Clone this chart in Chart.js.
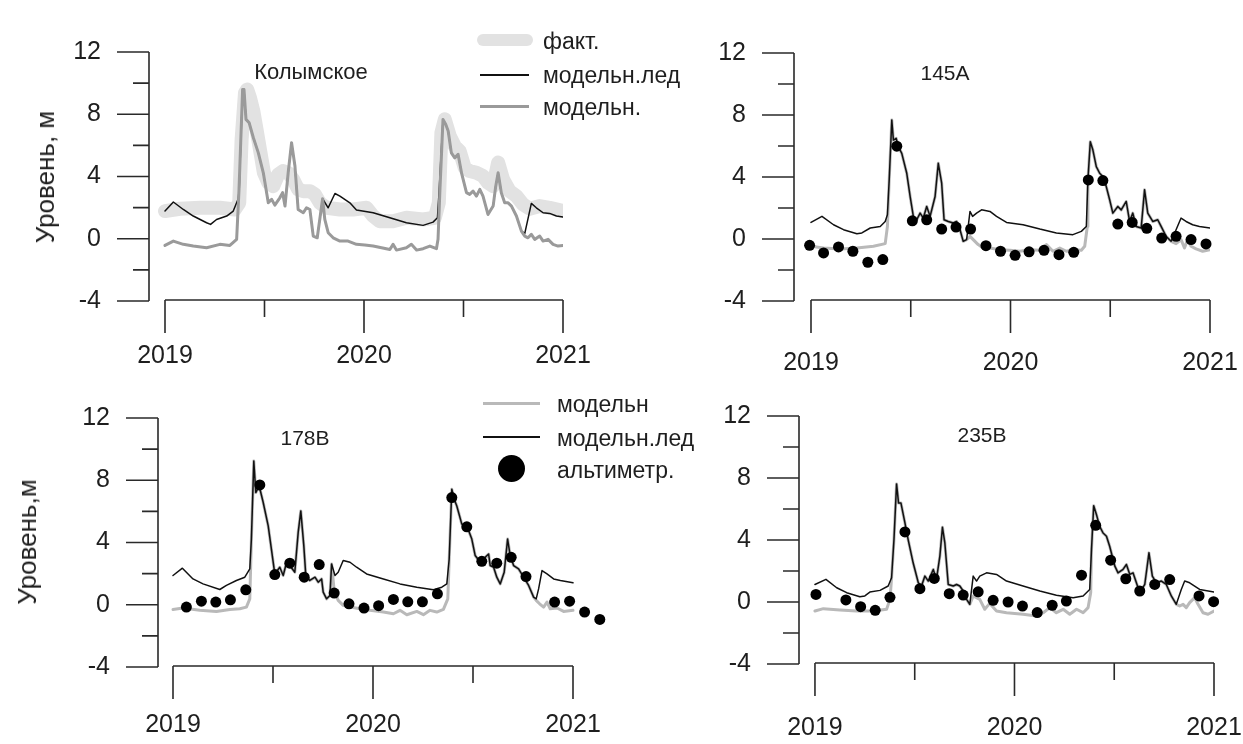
<!DOCTYPE html>
<html lang="ru">
<head>
<meta charset="UTF-8"/>
<title>Уровень воды: Колымское, 145A, 178B, 235B</title>
<style>
  html, body { margin: 0; padding: 0; background: #fff; }
  #page { position: relative; width: 1243px; height: 744px; overflow: hidden;
          font-family: "Liberation Sans", Arial, sans-serif; color: #1e1e1e; }
  #page canvas { position: absolute; left: 0; top: 0; }
  .t { position: absolute; white-space: nowrap; line-height: 1; }
  .c { transform: translate(-50%, -50%); }
  .l { transform: translateY(-50%); }
  .ylab { font-size: 26px; transform: translate(-50%, -50%) rotate(-90deg); }
  .ptitle { font-size: 21px; }
  .leg { font-size: 23px; }
  .sw { position: absolute; }
</style>
</head>
<body>
<div id="page">
  <canvas id="c1" width="1243" height="744"></canvas>
  <canvas id="c2" width="1243" height="744"></canvas>
  <canvas id="c3" width="1243" height="744"></canvas>
  <canvas id="c4" width="1243" height="744"></canvas>

  <div class="t ylab" style="left:45px; top:177px;">Уровень, м</div>
  <div class="t ylab" style="left:27px; top:542px;">Уровень,м</div>

  <div class="t c ptitle" style="left:311px; top:72px; font-size:22px;">Колымское</div>
  <div class="t c ptitle" style="left:945px; top:72px;">145A</div>
  <div class="t c ptitle" style="left:305px; top:437px;">178B</div>
  <div class="t c ptitle" style="left:982px; top:434px;">235B</div>

  <!-- legend, top -->
  <div class="sw" style="left:477px; top:34px; width:56px; height:12px; border-radius:6px; background:#e2e2e2;"></div>
  <div class="sw" style="left:480px; top:74px; width:49px; height:1.5px; background:#111;"></div>
  <div class="sw" style="left:480px; top:105px; width:49px; height:3px; background:#9a9a9a;"></div>
  <div class="t l leg" style="left:543px; top:41px;">факт.</div>
  <div class="t l leg" style="left:543px; top:75px;">модельн.лед</div>
  <div class="t l leg" style="left:543px; top:107px;">модельн.</div>

  <!-- legend, bottom -->
  <div class="sw" style="left:483px; top:402px; width:57px; height:3px; background:#b9b9b9;"></div>
  <div class="sw" style="left:483px; top:436px; width:57px; height:1.5px; background:#111;"></div>
  <div class="sw" style="left:498px; top:455px; width:27px; height:27px; border-radius:50%; background:#000;"></div>
  <div class="t l leg" style="left:557px; top:404px;">модельн</div>
  <div class="t l leg" style="left:557px; top:438px;">модельн.лед</div>
  <div class="t l leg" style="left:557px; top:470px;">альтиметр.</div>
</div>

<script src="https://cdn.jsdelivr.net/npm/chart.js@4.4.1/dist/chart.umd.min.js"></script>
<script>
// axis ticks
const yMajor = [-4, 0, 4, 8, 12];
const yMinor = [-2, 2, 6, 10];
const xMajor = [2019, 2020, 2021];
const xMinor = [2019.5, 2020.5];
const xLabels = ['2019', '2020', '2021'];

// ---- Колымское ----
const kolFactT = [2019.000, 2019.075, 2019.176, 2019.276, 2019.351, 2019.373, 2019.385, 2019.402, 2019.413, 2019.427,
  2019.444, 2019.460, 2019.477, 2019.497, 2019.519, 2019.544, 2019.569, 2019.594, 2019.619, 2019.644,
  2019.669, 2019.695, 2019.728, 2019.753, 2019.778, 2019.812, 2019.879, 2019.946, 2020.013, 2020.046,
  2020.079, 2020.146, 2020.213, 2020.297, 2020.356, 2020.376, 2020.389, 2020.406, 2020.431, 2020.456,
  2020.481, 2020.506, 2020.531, 2020.565, 2020.598, 2020.623, 2020.649, 2020.674, 2020.699, 2020.732,
  2020.766, 2020.799, 2020.833, 2020.883, 2020.933, 2021.000];
const kolFactV = [1.78, 1.93, 1.99, 1.99, 1.88, 2.31, 6.38, 9.38, 9.59, 9.06,
  8.20, 7.02, 5.74, 4.24, 3.60, 3.38, 4.13, 4.35, 4.24, 3.81,
  3.17, 3.06, 3.06, 2.85, 2.31, 1.99, 1.88, 1.88, 1.99, 1.46,
  1.13, 1.13, 1.35, 1.24, 1.35, 2.31, 6.81, 7.67, 6.60, 5.95,
  5.63, 4.56, 4.35, 4.24, 4.03, 3.60, 3.38, 4.90, 3.81, 3.06,
  2.74, 2.21, 1.93, 2.10, 1.99, 1.78];

const kolModT = [2019.000, 2019.042, 2019.092, 2019.142, 2019.209, 2019.276, 2019.326, 2019.360, 2019.372, 2019.390,
  2019.397, 2019.407, 2019.423, 2019.444, 2019.469, 2019.494, 2019.519, 2019.536, 2019.552, 2019.577,
  2019.591, 2019.603, 2019.619, 2019.636, 2019.653, 2019.669, 2019.695, 2019.711, 2019.728, 2019.745,
  2019.765, 2019.792, 2019.803, 2019.820, 2019.845, 2019.879, 2019.920, 2019.962, 2020.004, 2020.046,
  2020.088, 2020.130, 2020.146, 2020.163, 2020.213, 2020.238, 2020.264, 2020.297, 2020.331, 2020.364,
  2020.372, 2020.381, 2020.397, 2020.411, 2020.423, 2020.439, 2020.456, 2020.473, 2020.490, 2020.515,
  2020.531, 2020.548, 2020.565, 2020.582, 2020.598, 2020.623, 2020.649, 2020.662, 2020.674, 2020.690,
  2020.707, 2020.724, 2020.741, 2020.766, 2020.791, 2020.808, 2020.824, 2020.841, 2020.858, 2020.883,
  2020.900, 2020.925, 2020.950, 2020.975, 2021.000];
const kolModV = [-0.43, -0.15, -0.36, -0.47, -0.58, -0.36, -0.43, -0.04, 3.17, 9.59,
  9.59, 7.67, 7.45, 6.49, 5.52, 4.24, 2.31, 2.53, 2.16, 2.63,
  2.96, 2.10, 4.24, 6.17, 4.67, 1.88, 1.67, 1.99, 1.88, 0.17,
  0.06, 2.57, 1.24, 0.39, 0.06, -0.15, -0.15, -0.36, -0.40, -0.47,
  -0.58, -0.69, -0.36, -0.73, -0.58, -0.36, -0.73, -0.64, -0.47, -0.64,
  -0.04, 2.96, 7.67, 7.34, 6.92, 5.52, 5.20, 5.42, 4.24, 2.96,
  2.85, 3.06, 2.74, 3.17, 2.74, 1.56, 2.10, 3.38, 4.24, 2.96,
  2.31, 2.31, 2.10, 1.46, 0.49, 0.17, 0.06, 0.28, -0.04, 0.17,
  -0.15, -0.04, -0.36, -0.47, -0.43];

// ice model: own points; during open water it follows the no-ice model
const kolIceT = [2019.000, 2019.042, 2019.092, 2019.142, 2019.209, 2019.229, 2019.259, 2019.310, 2019.343, 2019.368, 2019.373,
  2019.792, 2019.820, 2019.854, 2019.879, 2019.929, 2019.962, 2020.046, 2020.130, 2020.213, 2020.297, 2020.347, 2020.369, 2020.377,
  2020.808, 2020.841, 2020.866, 2020.900, 2020.933, 2020.967, 2021.000];
const kolIceV = [1.78, 2.36, 1.88, 1.46, 1.03, 0.92, 1.24, 1.46, 1.78, 2.57, 3.17,
  2.57, 1.99, 2.91, 2.74, 2.31, 1.84, 1.67, 1.35, 1.03, 0.86, 1.07, 1.35, 2.96,
  0.34, 2.27, 1.99, 1.67, 1.63, 1.46, 1.39];
const kolOpenWater = [[2019.374, 2019.791], [2020.378, 2020.807]];

// ---- 145A ----
const p2IceT = [2019.000, 2019.055, 2019.113, 2019.163, 2019.230, 2019.255, 2019.297, 2019.347, 2019.372, 2019.383,
  2019.392, 2019.405, 2019.413, 2019.427, 2019.438, 2019.455, 2019.480, 2019.497, 2019.513, 2019.530,
  2019.547, 2019.563, 2019.580, 2019.597, 2019.622, 2019.638, 2019.655, 2019.667, 2019.688, 2019.713,
  2019.730, 2019.747, 2019.763, 2019.780, 2019.797, 2019.810, 2019.830, 2019.855, 2019.897, 2019.930,
  2019.980, 2020.063, 2020.147, 2020.230, 2020.313, 2020.355, 2020.380, 2020.388, 2020.400, 2020.413,
  2020.430, 2020.447, 2020.463, 2020.480, 2020.497, 2020.513, 2020.538, 2020.555, 2020.580, 2020.597,
  2020.613, 2020.630, 2020.655, 2020.672, 2020.688, 2020.713, 2020.738, 2020.755, 2020.780, 2020.805,
  2020.830, 2020.855, 2020.880, 2020.913, 2020.947, 2021.000];
const p2IceV = [1.07, 1.46, 0.92, 0.60, 0.34, 0.39, 0.71, 0.81, 1.13, 1.56,
  3.81, 7.67, 6.38, 6.49, 5.95, 5.52, 4.24, 2.74, 1.46, 1.24,
  1.67, 1.35, 2.10, 1.46, 2.74, 4.88, 3.60, 1.24, 1.13, 1.03,
  1.13, 0.60, -0.15, -0.04, 1.78, 1.46, 1.67, 1.88, 1.78, 1.46,
  1.07, 0.92, 0.64, 0.39, 0.28, 0.49, 0.81, 3.81, 6.27, 5.74,
  4.67, 4.24, 4.03, 3.38, 2.53, 1.67, 2.10, 1.88, 2.42, 1.13,
  1.67, 0.81, 0.71, 3.17, 1.67, 1.13, 1.24, 0.81, 0.17, -0.15,
  0.60, 1.35, 1.13, 0.92, 0.81, 0.71];
const p2ModT = [2019.000, 2019.063, 2019.147, 2019.230, 2019.313, 2019.372, 2019.383,
  2019.797, 2019.813, 2019.838, 2019.863, 2019.897, 2019.947, 2019.997, 2020.047, 2020.097, 2020.147,
  2020.180, 2020.213, 2020.247, 2020.280, 2020.313, 2020.355, 2020.372, 2020.385,
  2020.830, 2020.855, 2020.872, 2020.888, 2020.905, 2020.930, 2020.963, 2021.000];
const p2ModV = [-0.47, -0.58, -0.64, -0.58, -0.47, -0.30, 0.81,
  0.17, -0.04, -0.36, -0.58, -0.58, -0.69, -0.73, -0.79, -0.69, -0.73,
  -0.36, -0.79, -0.58, -0.79, -0.69, -0.73, -0.47, 0.81,
  -0.30, -0.04, -0.58, -0.04, -0.47, -0.64, -0.79, -0.69];
const p2OpenWater = [[2019.385, 2019.790], [2020.386, 2020.810]];
const p2AltT = [2018.993, 2019.063, 2019.138, 2019.210, 2019.285, 2019.360, 2019.430, 2019.508, 2019.580, 2019.655,
  2019.727, 2019.800, 2019.877, 2019.950, 2020.023, 2020.093, 2020.168, 2020.243, 2020.317, 2020.390,
  2020.463, 2020.538, 2020.610, 2020.683, 2020.758, 2020.830, 2020.905, 2020.980];
const p2AltV = [-0.41, -0.90, -0.51, -0.79, -1.50, -1.33, 5.99, 1.17, 1.24, 0.64,
  0.77, 0.64, -0.43, -0.79, -1.05, -0.83, -0.73, -1.01, -0.86, 3.81,
  3.77, 0.96, 1.07, 0.69, 0.06, 0.17, -0.04, -0.32];

// ---- 178B ----
const p3IceT = [2019.000, 2019.047, 2019.100, 2019.150, 2019.234, 2019.267, 2019.317, 2019.359, 2019.384, 2019.392,
  2019.404, 2019.414, 2019.431, 2019.451, 2019.476, 2019.509, 2019.534, 2019.551, 2019.568, 2019.584,
  2019.609, 2019.626, 2019.639, 2019.654, 2019.664, 2019.684, 2019.710, 2019.726, 2019.743, 2019.751,
  2019.768, 2019.785, 2019.793, 2019.810, 2019.826, 2019.851, 2019.885, 2019.918, 2019.968, 2020.052,
  2020.135, 2020.219, 2020.302, 2020.344, 2020.369, 2020.381, 2020.394, 2020.406, 2020.419, 2020.444,
  2020.469, 2020.494, 2020.511, 2020.536, 2020.561, 2020.578, 2020.586, 2020.603, 2020.619, 2020.636,
  2020.656, 2020.673, 2020.686, 2020.703, 2020.728, 2020.753, 2020.778, 2020.803, 2020.816, 2020.828,
  2020.845, 2020.870, 2020.903, 2020.937, 2021.000];
const p3IceV = [1.88, 2.35, 1.66, 1.34, 0.98, 1.24, 1.56, 1.77, 2.30, 4.22,
  9.23, 7.21, 7.63, 6.57, 5.07, 1.98, 2.41, 1.88, 2.73, 2.52,
  2.09, 4.65, 6.03, 3.80, 1.88, 1.56, 1.77, 1.45, 1.66, 0.81,
  0.38, 0.60, 2.62, 1.88, 2.09, 2.84, 2.73, 2.41, 1.98, 1.66,
  1.34, 1.13, 0.96, 1.13, 1.34, 2.94, 7.42, 6.78, 6.35, 5.18,
  5.07, 4.22, 3.16, 2.73, 3.05, 3.26, 2.52, 2.41, 1.77, 1.34,
  2.09, 4.22, 3.16, 2.52, 2.30, 1.77, 1.24, 0.49, 0.38, 1.02,
  2.20, 1.98, 1.66, 1.56, 1.41];
const p3ModT = [2019.000, 2019.050, 2019.134, 2019.217, 2019.284, 2019.334, 2019.367, 2019.384,
  2019.805, 2019.826, 2019.851, 2019.885, 2019.935, 2019.985, 2020.052, 2020.102, 2020.135, 2020.169,
  2020.219, 2020.252, 2020.285, 2020.319, 2020.352, 2020.374,
  2020.816, 2020.833, 2020.853, 2020.870, 2020.886, 2020.920, 2020.953, 2021.000];
const p3ModV = [-0.30, -0.21, -0.36, -0.43, -0.30, -0.26, -0.15, 0.38,
  1.02, 0.28, -0.04, -0.15, -0.26, -0.36, -0.47, -0.58, -0.36, -0.64,
  -0.43, -0.64, -0.36, -0.47, -0.30, 0.38,
  0.28, 0.06, -0.15, 0.17, -0.26, -0.21, -0.43, -0.36];
const p3OpenWater = [[2019.386, 2019.800], [2020.376, 2020.810]];
const p3AltT = [2019.067, 2019.142, 2019.214, 2019.287, 2019.364, 2019.434, 2019.509, 2019.584, 2019.656, 2019.731,
  2019.806, 2019.880, 2019.955, 2020.028, 2020.102, 2020.174, 2020.247, 2020.322, 2020.394, 2020.469,
  2020.544, 2020.619, 2020.691, 2020.765, 2020.908, 2020.983, 2021.058, 2021.134];
const p3AltV = [-0.15, 0.23, 0.17, 0.32, 0.96, 7.70, 1.94, 2.67, 1.77, 2.58,
  0.75, 0.06, -0.21, -0.06, 0.34, 0.19, 0.19, 0.70, 6.89, 5.01,
  2.79, 2.67, 3.05, 1.81, 0.17, 0.23, -0.47, -0.94];

// ---- 235B ----
const p4IceT = [2019.000, 2019.055, 2019.109, 2019.159, 2019.225, 2019.250, 2019.275, 2019.326, 2019.367, 2019.384,
  2019.396, 2019.409, 2019.419, 2019.431, 2019.451, 2019.467, 2019.492, 2019.518, 2019.534, 2019.551,
  2019.568, 2019.593, 2019.609, 2019.626, 2019.639, 2019.651, 2019.668, 2019.693, 2019.710, 2019.726,
  2019.743, 2019.760, 2019.776, 2019.793, 2019.810, 2019.826, 2019.860, 2019.910, 2019.960, 2020.043,
  2020.127, 2020.210, 2020.294, 2020.344, 2020.377, 2020.386, 2020.397, 2020.411, 2020.427, 2020.444,
  2020.461, 2020.477, 2020.503, 2020.519, 2020.544, 2020.561, 2020.578, 2020.594, 2020.611, 2020.628,
  2020.653, 2020.674, 2020.691, 2020.711, 2020.736, 2020.761, 2020.786, 2020.811, 2020.836, 2020.853,
  2020.878, 2020.928, 2021.000];
const p4IceV = [1.13, 1.46, 0.92, 0.60, 0.34, 0.39, 0.64, 0.75, 1.03, 1.56,
  4.03, 7.62, 6.38, 6.38, 5.10, 4.03, 2.53, 1.24, 1.03, 1.67,
  1.35, 2.10, 1.46, 2.96, 4.82, 3.81, 1.13, 1.03, 1.13, 1.03,
  0.71, 0.17, -0.15, 1.67, 1.35, 1.67, 1.88, 1.78, 1.35, 1.03,
  0.71, 0.43, 0.28, 0.39, 0.81, 3.38, 6.21, 5.63, 4.88, 4.45,
  4.24, 3.60, 2.31, 1.88, 2.10, 2.42, 1.78, 1.88, 1.24, 0.60,
  1.13, 3.17, 1.67, 1.24, 1.35, 1.13, 0.39, -0.15, 0.81, 1.35,
  1.24, 0.81, 0.64];
const p4ModT = [2019.000, 2019.042, 2019.125, 2019.209, 2019.292, 2019.359, 2019.376,
  2019.793, 2019.826, 2019.851, 2019.876, 2019.910, 2019.960, 2020.043, 2020.110, 2020.144, 2020.177,
  2020.210, 2020.244, 2020.277, 2020.311, 2020.344, 2020.369, 2020.382,
  2020.828, 2020.845, 2020.861, 2020.878, 2020.903, 2020.920, 2020.945, 2020.970, 2021.000];
const p4ModV = [-0.58, -0.43, -0.51, -0.58, -0.58, -0.47, 0.17,
  0.39, 0.17, -0.47, -0.09, -0.58, -0.69, -0.79, -0.90, -0.69, -0.36,
  -0.69, -0.47, -0.79, -0.47, -0.69, -0.36, 0.60,
  -0.26, -0.15, -0.36, -0.04, 0.28, -0.15, -0.69, -0.79, -0.58];
const p4OpenWater = [[2019.380, 2019.780], [2020.384, 2020.815]];
const p4AltT = [2019.005, 2019.155, 2019.229, 2019.302, 2019.376, 2019.451, 2019.526, 2019.598, 2019.673, 2019.743,
  2019.818, 2019.893, 2019.968, 2020.040, 2020.114, 2020.189, 2020.260, 2020.336, 2020.407, 2020.482,
  2020.558, 2020.628, 2020.703, 2020.778, 2020.925, 2020.998];
const p4AltV = [0.49, 0.13, -0.30, -0.54, 0.30, 4.52, 0.86, 1.52, 0.54, 0.45,
  0.66, 0.11, 0.00, -0.26, -0.68, -0.21, 0.06, 1.73, 4.95, 2.70,
  1.50, 0.71, 1.13, 1.45, 0.39, 0.02];

function pts(t, v) { return t.map((ti, i) => ({ x: ti, y: v[i] })); }

// own points plus the other model's points inside the open-water windows
function withShared(ownT, ownV, baseT, baseV, windows) {
  const shared = pts(baseT, baseV).filter(p => windows.some(([a, b]) => p.x > a && p.x < b));
  return pts(ownT, ownV).concat(shared).sort((p, q) => p.x - q.x);
}

const lineStyle = (color, width, order) => ({
  borderColor: color, borderWidth: width, pointRadius: 0, tension: 0,
  borderJoinStyle: 'round', borderCapStyle: 'round', order: order
});
const dotStyle = { showLine: false, pointRadius: 5.5, pointBackgroundColor: '#000',
  pointBorderWidth: 0, clip: false, order: 0 };

// SigmaPlot-like detached axes
const sigmaAxes = {
  id: 'sigmaAxes',
  afterDraw(chart, args, opts) {
    const { ctx, chartArea, scales: { x, y } } = chart;
    const ax = chartArea.left;
    const base = y.getPixelForValue(-4) - 1;
    ctx.save();
    ctx.strokeStyle = '#2a2a2a';
    ctx.lineWidth = 1.6;
    ctx.beginPath();
    ctx.moveTo(ax, y.getPixelForValue(12));
    ctx.lineTo(ax, y.getPixelForValue(-4));
    yMajor.forEach(v => { const p = y.getPixelForValue(v); ctx.moveTo(ax - 32, p); ctx.lineTo(ax, p); });
    yMinor.forEach(v => { const p = y.getPixelForValue(v); ctx.moveTo(ax - 16, p); ctx.lineTo(ax, p); });
    ctx.moveTo(x.getPixelForValue(2019), base);
    ctx.lineTo(x.getPixelForValue(2021), base);
    xMajor.forEach(v => { const p = x.getPixelForValue(v); ctx.moveTo(p, base); ctx.lineTo(p, base + 33); });
    xMinor.forEach(v => { const p = x.getPixelForValue(v); ctx.moveTo(p, base); ctx.lineTo(p, base + 17); });
    ctx.stroke();
    ctx.fillStyle = '#1e1e1e';
    ctx.font = '25px "Liberation Sans", Arial, sans-serif';
    ctx.textAlign = 'right';
    ctx.textBaseline = 'middle';
    yMajor.forEach(v => ctx.fillText(String(v), ax - 48, y.getPixelForValue(v)));
    ctx.textAlign = 'center';
    xMajor.forEach((v, i) => ctx.fillText(xLabels[i], x.getPixelForValue(v), base + opts.labelGap));
    ctx.restore();
  }
};

function panel(id, cfg) {
  return new Chart(document.getElementById(id), {
    type: 'line',
    data: { datasets: cfg.datasets },
    options: {
      responsive: false,
      animation: false,
      devicePixelRatio: 1,
      events: [],
      layout: { padding: cfg.pad },
      scales: {
        x: { type: 'linear', display: false, min: cfg.xmin, max: cfg.xmax },
        y: { type: 'linear', display: false, min: -4, max: 12 }
      },
      plugins: { legend: { display: false }, tooltip: { enabled: false }, sigmaAxes: { labelGap: cfg.labelGap } }
    },
    plugins: [sigmaAxes]
  });
}

panel('c1', {
  pad: { left: 149, top: 52, right: 680, bottom: 443 }, xmin: 2018.9196, xmax: 2021, labelGap: 56,
  datasets: [
    { label: 'модельн.', data: pts(kolModT, kolModV), ...lineStyle('#9a9a9a', 3, 1) },
    { label: 'модельн.лед', data: withShared(kolIceT, kolIceV, kolModT, kolModV, kolOpenWater), ...lineStyle('#111', 1.5, 2) },
    { label: 'факт.', data: pts(kolFactT, kolFactV), ...lineStyle('#e2e2e2', 14, 3) }
  ]
});

panel('c2', {
  pad: { left: 794, top: 53, right: 33, bottom: 443 }, xmin: 2018.9148, xmax: 2021, labelGap: 63,
  datasets: [
    { label: 'альтиметр.', data: pts(p2AltT, p2AltV), ...dotStyle },
    { label: 'модельн.лед', data: pts(p2IceT, p2IceV), ...lineStyle('#111', 1.5, 1) },
    { label: 'модельн', data: withShared(p2ModT, p2ModV, p2IceT, p2IceV, p2OpenWater), ...lineStyle('#b9b9b9', 3, 2) }
  ]
});

// the last two altimeter points fall after 2021, so this panel's x range runs a bit past the axis
panel('c3', {
  pad: { left: 158, top: 418, right: 640, bottom: 77 }, xmin: 2018.925, xmax: 2021.15, labelGap: 59,
  datasets: [
    { label: 'альтиметр.', data: pts(p3AltT, p3AltV), ...dotStyle },
    { label: 'модельн.лед', data: pts(p3IceT, p3IceV), ...lineStyle('#111', 1.5, 1) },
    { label: 'модельн', data: withShared(p3ModT, p3ModV, p3IceT, p3IceV, p3OpenWater), ...lineStyle('#b9b9b9', 3, 2) }
  ]
});

panel('c4', {
  pad: { left: 799, top: 416, right: 29, bottom: 80 }, xmin: 2018.92, xmax: 2021, labelGap: 65,
  datasets: [
    { label: 'альтиметр.', data: pts(p4AltT, p4AltV), ...dotStyle },
    { label: 'модельн.лед', data: pts(p4IceT, p4IceV), ...lineStyle('#111', 1.5, 1) },
    { label: 'модельн', data: withShared(p4ModT, p4ModV, p4IceT, p4IceV, p4OpenWater), ...lineStyle('#b9b9b9', 3, 2) }
  ]
});
</script>
</body>
</html>
